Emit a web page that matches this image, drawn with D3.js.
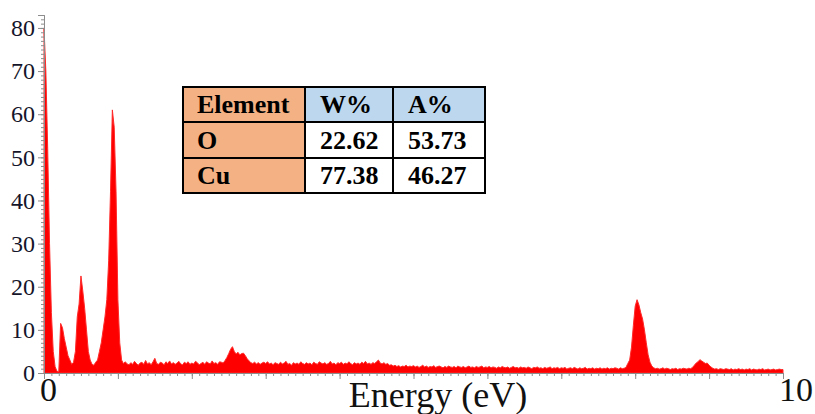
<!DOCTYPE html>
<html>
<head>
<meta charset="utf-8">
<script src="https://cdn.jsdelivr.net/npm/d3@7"></script>
<style>
  html, body { margin: 0; padding: 0; background: #fff; }
  svg { display: block; }
</style>
</head>
<body>
<script>
// EDS spectrum, counts, one value every 0.025 keV from 0 to 10
const energyStep = 0.025;
const counts = [
  80, 70, 52, 30, 14, 5, 1.5, 0.4, 0.3, 11.5, 10.5, 8, 6, 4, 3, 2, 2.5, 5, 13, 16,
  22.5, 19, 15, 10, 5, 3, 2, 1.8, 2.5, 3, 5, 7, 10, 13, 17, 26, 42, 61, 57, 42,
  17, 7, 3, 2.2, 2.6, 2.1, 1.9, 2.4, 2.0, 2.7, 2.2, 1.8, 2.3, 2.5, 2.0, 2.9, 2.1, 2.4, 1.9, 2.6,
  3.4, 2.2, 2.0, 2.5, 2.3, 1.9, 2.6, 2.2, 2.8, 2.1, 2.4, 2.0, 2.3, 2.7, 2.1, 1.9, 2.5, 2.2, 2.6, 2.0,
  2.3, 2.1, 2.7, 2.4, 1.9, 2.2, 2.5, 2.0, 2.6, 2.3, 2.1, 2.8, 2.2, 2.4, 2.0, 2.6, 2.5, 2.3, 2.9, 3.6,
  4.5, 5.5, 6.1, 5.0, 4.4, 4.8, 4.2, 4.5, 4.6, 4.0, 3.3, 2.8, 2.4, 2.2, 2.5, 2.1, 2.4, 2.0, 2.3, 2.5,
  2.2, 2.6, 2.1, 2.3, 1.9, 2.4, 2.2, 2.0, 2.5, 2.1, 2.3, 2.7, 2.0, 2.2, 1.8, 2.4, 2.1, 2.3, 2.0, 2.6,
  2.2, 2.0, 2.4, 2.1, 2.3, 1.9, 2.5, 2.2, 2.0, 2.6, 2.3, 2.1, 2.4, 2.0, 2.2, 2.7, 2.1, 2.3, 1.9, 2.4,
  2.2, 2.5, 2.0, 2.3, 2.1, 2.6, 2.2, 1.9, 2.4, 2.1, 2.3, 2.0, 2.5, 2.2, 2.7, 2.1, 2.3, 2.0, 2.4, 2.2,
  2.6, 3.0, 2.3, 2.1, 2.4, 2.0, 2.2, 1.8, 1.9, 1.6, 1.8, 1.5, 1.7, 1.4, 1.6, 1.5, 1.8, 1.4, 1.6, 1.5,
  1.7, 1.4, 1.6, 1.3, 1.5, 1.8, 1.4, 1.6, 1.3, 1.5, 1.4, 1.7, 1.3, 1.5, 1.6, 1.4, 1.2, 1.5, 1.3, 1.6,
  1.4, 1.3, 1.5, 1.2, 1.6, 1.4, 1.3, 1.5, 1.2, 1.4, 1.6, 1.3, 1.4, 1.2, 1.5, 1.3, 1.4, 1.6, 1.2, 1.4,
  1.3, 1.5, 1.2, 1.4, 1.3, 1.1, 1.4, 1.2, 1.5, 1.3, 1.2, 1.4, 1.1, 1.3, 1.5, 1.2, 1.3, 1.1, 1.4, 1.2,
  1.3, 1.1, 1.4, 1.2, 1.0, 1.3, 1.2, 1.4, 1.1, 1.2, 1.0, 1.3, 1.1, 1.2, 1.4, 1.0, 1.2, 1.1, 1.3, 1.0,
  1.2, 1.1, 1.3, 0.9, 1.1, 1.2, 1.0, 1.3, 1.1, 0.9, 1.2, 1.0, 1.1, 1.3, 0.9, 1.1, 1.0, 1.2, 0.9, 1.1,
  1.0, 1.2, 0.9, 1.1, 1.0, 1.2, 0.9, 1.1, 1.0, 1.2, 1.1, 0.9, 1.2, 1.0, 1.1, 1.3, 2.2, 3.0, 6.0, 11.0,
  15.5, 17.0, 15.8, 14.0, 12.5, 10.0, 7.0, 4.2, 2.5, 1.6, 1.2, 1.0, 1.1, 0.9, 1.0, 1.2, 0.9, 1.1, 1.0, 0.8,
  1.0, 0.9, 1.1, 0.8, 1.0, 0.9, 1.1, 1.0, 0.9, 1.1, 1.0, 1.3, 1.8, 2.3, 2.6, 3.1, 2.8, 2.5, 2.2, 2.3,
  1.8, 1.4, 1.1, 0.9, 1.0, 0.8, 1.0, 0.9, 0.8, 1.0, 0.9, 0.8, 1.0, 0.7, 0.9, 0.8, 1.0, 0.8, 0.9, 0.7,
  0.9, 0.8, 1.0, 0.7, 0.9, 0.8, 0.7, 0.9, 0.8, 1.0, 0.7, 0.8, 0.9, 0.7, 0.8, 0.9, 0.7, 0.8, 0.9, 0.8,
  0.8
];

const yTicks = [0, 10, 20, 30, 40, 50, 60, 70, 80];
const xTickLabels = [0, 10];
const xTitle = "Energy (eV)";

const tableHeader = ["Element", "W%", "A%"];
const elements = ["O", "Cu"];
const weightPct = ["22.62", "77.38"];
const atomicPct = ["53.73", "46.27"];

const width = 815, height = 414;
const serif = "'Liberation Serif', 'Times New Roman', serif";

const svg = d3.select("body").append("svg")
  .attr("width", width)
  .attr("height", height);

const x = d3.scaleLinear().domain([0, 10]).range([44, 783]);
const y = d3.scaleLinear().domain([0, 83]).range([373, 15]);

const spectrum = counts.map((c, i) => ({ e: i * energyStep, c: c }));

let area = d3.area()
  .x(d => x(d.e))
  .y0(y(0))
  .y1(d => y(d.c));

svg.append("path")
  .datum(spectrum)
  .attr("d", area)
  .attr("fill", "#ff0000")
  .attr("stroke", "#ff2a2a")
  .attr("stroke-width", 1);

// axes
const axisColor = "#8c8c8c";

let xMinor = svg.append("g")
  .attr("transform", `translate(0,${y(0)})`)
  .call(d3.axisBottom(x).tickValues(d3.range(0, 101).map(d => d / 10)).tickSize(3).tickFormat(""));
let xMajor = svg.append("g")
  .attr("transform", `translate(0,${y(0)})`)
  .call(d3.axisBottom(x).tickValues(d3.range(0, 11)).tickSize(6).tickFormat(""));
[xMinor, xMajor].forEach(g => {
  g.select(".domain").attr("stroke", axisColor);
  g.selectAll(".tick line").attr("stroke", axisColor);
});

let yMinor = svg.append("g")
  .attr("transform", `translate(${x(0)},0)`)
  .call(d3.axisLeft(y).tickValues(d3.range(0, 84)).tickSize(3).tickFormat(""));
let yMajor = svg.append("g")
  .attr("transform", `translate(${x(0)},0)`)
  .call(d3.axisLeft(y).tickValues(yTicks).tickSize(6).tickPadding(3));
[yMinor, yMajor].forEach(g => {
  g.select(".domain").attr("stroke", axisColor);
  g.selectAll(".tick line").attr("stroke", axisColor);
});
yMajor.selectAll(".tick text")
  .attr("fill", "#15152a")
  .style("font-family", serif)
  .style("font-size", "24px");

svg.selectAll(".xlabel")
  .data(xTickLabels)
  .join("text")
  .attr("class", "xlabel")
  .attr("x", d => x(d) - 4)
  .attr("y", 401)
  .attr("fill", "#111")
  .style("font-family", serif)
  .style("font-size", "34px")
  .text(d => d);

svg.append("text")
  .attr("x", 438)
  .attr("y", 407)
  .attr("text-anchor", "middle")
  .attr("fill", "#111")
  .style("font-family", serif)
  .style("font-size", "36px")
  .text(xTitle);

// element table
const colX = [183, 305, 393, 485];
const rowY = [87, 122, 158, 193];
const rows = [tableHeader].concat(elements.map((el, i) => [el, weightPct[i], atomicPct[i]]));

const table = svg.append("g");
rows.forEach((row, r) => {
  row.forEach((txt, c) => {
    let fill = "#ffffff";
    if (c === 0) fill = "#f4b183";
    else if (r === 0) fill = "#bdd7ee";
    table.append("rect")
      .attr("x", colX[c])
      .attr("y", rowY[r])
      .attr("width", colX[c + 1] - colX[c])
      .attr("height", rowY[r + 1] - rowY[r])
      .attr("fill", fill)
      .attr("stroke", "#000")
      .attr("stroke-width", 2);
    table.append("text")
      .attr("x", colX[c] + (c === 0 ? 14 : 15))
      .attr("y", rowY[r + 1] - 9)
      .attr("fill", "#000")
      .style("font-family", serif)
      .style("font-weight", "bold")
      .style("font-size", "26px")
      .text(txt);
  });
});
</script>
</body>
</html>
